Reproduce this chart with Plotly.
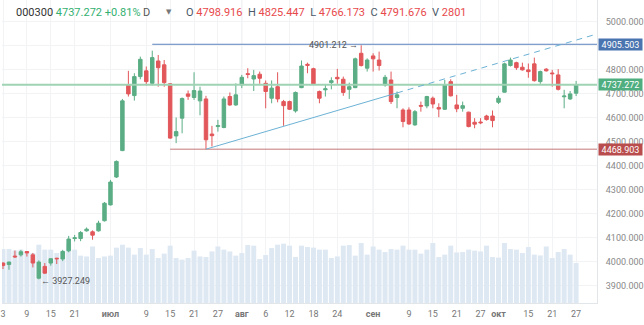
import plotly.graph_objects as go

# ---------------- data ----------------
bar_index = list(range(97))
opens = [3995, 3989, 4024, 4029, 4043, 4029, 3932, 3981, 3995, 4015,
         4012, 4046, 4097, 4097, 4129, 4125, 4129, 4171, 4237, 4353,
         4463, 4736, 4692, 4771, 4795, 4743, 4836, 4820, 4741, 4524,
         4598, 4699, 4684, 4670, 4678, 4532, 4563, 4559, 4688, 4653,
         4736, 4783, 4761, 4781, 4743, 4681, 4729, 4667, 4667, 4628,
         4725, 4822, 4804, 4709, 4716, 4746, 4768, 4760, 4718, 4725,
         4868, 4806, 4857, 4840, 4736, 4757, 4684, 4632, 4632, 4570,
         4651, 4649, 4681, 4642, 4635, 4750, 4653, 4639, 4623, 4581,
         4582, 4607, 4607, 4664, 4706, 4817, 4829, 4810, 4798.916, 4824,
         4750, 4802, 4786, 4778, 4687, 4678, 4702]
highs = [3998, 4001, 4047, 4050, 4045, 4037, 4006, 3995, 4016, 4017,
         4050, 4108, 4112, 4128, 4143, 4131, 4171, 4249, 4341, 4422,
         4678, 4795, 4785, 4854, 4813, 4879, 4861, 4840, 4744, 4601,
         4684, 4713, 4789, 4729, 4691, 4566, 4591, 4688, 4705, 4743,
         4778, 4806, 4799, 4792, 4755, 4755, 4789, 4674, 4671, 4709,
         4838, 4829, 4808, 4713, 4736, 4768, 4803, 4771, 4746, 4850,
         4901.212, 4847, 4868, 4875, 4778, 4792, 4709, 4639, 4643, 4632,
         4667, 4691, 4688, 4660, 4757, 4760, 4695, 4667, 4625, 4598,
         4598, 4612, 4630, 4691, 4829, 4850, 4833, 4829, 4825.447, 4850,
         4796, 4806, 4799, 4802, 4716, 4711, 4753]
lows = [3970, 3967, 4016, 4022, 4022, 3977, 3927.249, 3950, 3984, 3991,
        4003, 4040, 4085, 4086, 4126, 4092, 4126, 4168, 4235, 4349,
        4461, 4688, 4671, 4760, 4734, 4734, 4729, 4729, 4512, 4494,
        4535, 4674, 4674, 4610, 4469, 4480, 4542, 4556, 4649, 4649,
        4723, 4764, 4711, 4741, 4639, 4660, 4664, 4566, 4632, 4621,
        4723, 4785, 4738, 4660, 4688, 4718, 4741, 4691, 4678, 4723,
        4813, 4792, 4792, 4796, 4729, 4657, 4639, 4560, 4570, 4566,
        4625, 4639, 4639, 4602, 4632, 4688, 4623, 4625, 4560, 4556,
        4573, 4588, 4560, 4657, 4705, 4813, 4799, 4796, 4766.173, 4750,
        4741, 4792, 4729, 4713, 4639, 4674, 4690]
closes = [3985, 3999, 4021, 4042, 4037, 3995, 3999, 3953, 4013, 4013,
          4043, 4095, 4100, 4122, 4136, 4111, 4161, 4244, 4332, 4418,
          4670, 4699, 4771, 4843, 4750, 4850, 4808, 4746, 4515, 4542,
          4680, 4689, 4713, 4711, 4508, 4525, 4567, 4678, 4653, 4695,
          4768, 4780, 4775, 4764, 4709, 4723, 4678, 4650, 4635, 4705,
          4815, 4818, 4741, 4681, 4720, 4754, 4762, 4705, 4729, 4845,
          4817, 4840, 4845, 4817, 4768, 4667, 4695, 4584, 4574, 4625,
          4648, 4688, 4657, 4636, 4736, 4691, 4637, 4650, 4563, 4573,
          4579, 4592, 4588, 4681, 4824, 4840, 4808, 4799, 4791.676, 4754,
          4792, 4795, 4783, 4718, 4690, 4699, 4737.272]
volumes = [2700, 2700, 2630, 2670, 2500, 2500, 2920, 2670, 2670, 2500,
           2620, 2970, 2670, 2370, 2330, 2830, 2250, 2330, 2370, 2770,
           2920, 2770, 2420, 2750, 2420, 2700, 2250, 2470, 2870, 2250,
           2170, 2250, 2620, 2330, 2300, 2580, 2830, 2670, 2580, 2370,
           2500, 2900, 2870, 2200, 2400, 2750, 2920, 2970, 2870, 2300,
           2870, 2800, 2770, 2670, 2670, 2250, 2330, 2870, 2900, 2370,
           3000, 2420, 2830, 2670, 2550, 2700, 2670, 2870, 2670, 2670,
           2470, 2670, 3000, 2300, 2420, 2870, 2530, 2550, 2670, 2620,
           2580, 2870, 2300, 2270, 3000, 2700, 2670, 2500, 2801, 2420,
           2380, 2830, 2250, 2550, 2700, 2420, 2000]

tick_positions = [0, 4, 8, 12, 18, 24, 28, 32, 36, 40, 44, 48, 52, 56,
                  62, 68, 72, 76, 80, 83, 88, 92, 96]
tick_labels = ["3", "9", "15", "21", "июл", "9", "15", "21", "27", "авг",
               "6", "12", "18", "24", "сен", "9", "15", "21", "27", "окт",
               "15", "21", "27"]
month_labels = ["июл", "авг", "сен", "окт"]

price_ticks = [3900, 4000, 4100, 4200, 4300, 4400, 4500, 4600, 4700, 4800, 4900, 5000]
hidden_price_labels = [4900]  # fully covered by the level label in the reference

levels = [4905.503, 4737.272, 4468.903]
level_start = [25, -0.2, 28]
level_colors = ["#5b83bd", "#9fd3b4", "#c27878"]
level_box_colors = ["#4a74b0", "#4fae7f", "#b94c4c"]

trend_x = [34, 66, 99.5]
trend_y = [4469, 4703, 4948.5]

symbol = "000300"
last_price = "4737.272"
change = "+0.81%"
ohlcv_labels = ["O", "H", "L", "C", "V"]
ohlcv_values = ["4798.916", "4825.447", "4766.173", "4791.676", "2801"]

peak_idx, peak_val = 60, 4901.212
trough_idx, trough_val = 6, 3927.249

# ---------------- figure ----------------
GREEN = "#5aad84"
RED = "#e2575a"
X_RANGE = [-0.17, 99.5]
PLOT_W, PLOT_H = 598, 303

fig = go.Figure()

fig.add_trace(go.Bar(x=bar_index, y=volumes, marker=dict(color="#dde8f3", line=dict(width=0)),
                     yaxis="y", hoverinfo="skip", showlegend=False))

# level lines
for lv, st, col in zip(levels, level_start, level_colors):
    fig.add_trace(go.Scatter(x=[st, X_RANGE[1]], y=[lv, lv], mode="lines", yaxis="y2",
                             line=dict(color=col, width=2 if col == level_colors[1] else 1),
                             hoverinfo="skip", showlegend=False))

# trend line: solid then dashed
fig.add_trace(go.Scatter(x=trend_x[:2], y=trend_y[:2], mode="lines", yaxis="y2",
                         line=dict(color="#6cb2d5", width=1), hoverinfo="skip", showlegend=False))
fig.add_trace(go.Scatter(x=trend_x[1:], y=trend_y[1:], mode="lines", yaxis="y2",
                         line=dict(color="#6cb2d5", width=1, dash="6px,5px"),
                         hoverinfo="skip", showlegend=False))

fig.add_trace(go.Candlestick(x=bar_index, open=opens, high=highs, low=lows, close=closes,
                             yaxis="y2", whiskerwidth=0,
                             increasing=dict(line=dict(color=GREEN, width=1), fillcolor=GREEN),
                             decreasing=dict(line=dict(color=RED, width=1), fillcolor=RED),
                             showlegend=False))

# month separator lines (slightly darker grid)
for pos, lab in zip(tick_positions, tick_labels):
    if lab in month_labels:
        fig.add_shape(type="line", xref="x", yref="paper", x0=pos, x1=pos, y0=0, y1=1,
                      line=dict(color="#e3e6e9", width=1), layer="below")

ticktext = [f"<b>{t}</b>" if t in month_labels else t for t in tick_labels]

annotations = []
# right axis level labels
for lv, col in zip(levels, level_box_colors):
    annotations.append(dict(xref="paper", x=1, xanchor="left", xshift=1, yref="y2", y=lv,
                            text=f"{lv:.3f}", showarrow=False, bgcolor=col, width=42, height=10,
                            borderpad=0.5, font=dict(color="white", size=9, family="Roboto")))

# high / low markers
annotations.append(dict(x=peak_idx, y=peak_val, xref="x", yref="y2", xanchor="right", xshift=-1,
                        text=f"{peak_val:.3f} →", showarrow=False,
                        font=dict(size=9, color="#555", family="Roboto")))
annotations.append(dict(x=trough_idx, y=trough_val, xref="x", yref="y2", xanchor="left", xshift=0,
                        yshift=-2, text=f"← {trough_val:.3f}", showarrow=False,
                        font=dict(size=9, color="#555", family="Roboto")))

def px(x):
    return x / PLOT_W

def py(y):
    return 1 - y / PLOT_H

HEAD_Y = 12
annotations.append(dict(xref="paper", yref="paper", x=px(12), y=py(HEAD_Y), xanchor="left",
                        yanchor="middle", showarrow=False,
                        text=f"{symbol} <span style='color:#33b06f'>{last_price} {change}</span>",
                        font=dict(size=11, color="#333", family="Roboto")))
annotations.append(dict(xref="paper", yref="paper", x=px(140), y=py(HEAD_Y), xanchor="left",
                        yanchor="middle", showarrow=False, text="D",
                        font=dict(size=11, color="#555", family="Roboto")))
annotations.append(dict(xref="paper", yref="paper", x=px(163), y=py(HEAD_Y), xanchor="left",
                        yanchor="middle", showarrow=False, text="▼",
                        font=dict(size=7, color="#777", family="DejaVu Sans")))
ohlcv_text = "  ".join(f"{l} <span style='color:#e8494b'>{v}</span>"
                       for l, v in zip(ohlcv_labels, ohlcv_values))
annotations.append(dict(xref="paper", yref="paper", x=px(183), y=py(HEAD_Y), xanchor="left",
                        yanchor="middle", showarrow=False, text=ohlcv_text,
                        font=dict(size=11, color="#4a5868", family="Roboto")))

fig.update_layout(
    width=644, height=325,
    margin=dict(l=0, r=46, t=0, b=22),
    paper_bgcolor="white", plot_bgcolor="white",
    boxgap=0.17, bargap=0.17,
    showlegend=False,
    font=dict(family="Roboto", size=9, color="#777"),
    xaxis=dict(range=X_RANGE, tickvals=tick_positions, ticktext=ticktext,
               showgrid=True, gridcolor="#f1f3f5", gridwidth=1, zeroline=False,
               showline=True, linecolor="#e3e6e9", ticks="", ticklabelstandoff=2,
               ticklabeloverflow="allow",
               tickfont=dict(size=9, color="#777"), rangeslider=dict(visible=False),
               fixedrange=True),
    yaxis=dict(range=[0, 15165], visible=False, fixedrange=True),
    yaxis2=dict(overlaying="y", side="right", range=[3828.7, 5089.8],
                tickvals=price_ticks,
                ticktext=["" if v in hidden_price_labels else f"{v:.3f}" for v in price_ticks],
                showgrid=True, gridcolor="#f1f3f5", zeroline=False,
                showline=True, linecolor="#e3e6e9", ticks="", ticklabelstandoff=6,
                tickfont=dict(size=9, color="#888"), fixedrange=True),
    annotations=annotations,
)

fig.write_html("out.html")
